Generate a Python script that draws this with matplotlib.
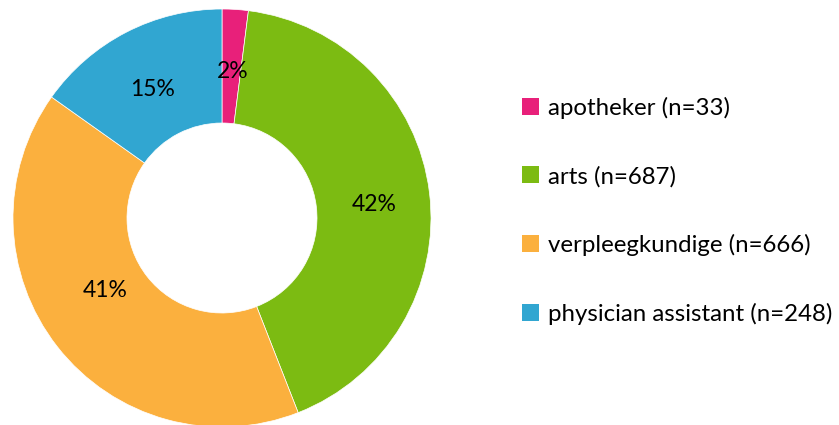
import matplotlib
matplotlib.use("Agg")
import matplotlib.pyplot as plt
from matplotlib.patches import Patch

categories = ["apotheker", "arts", "verpleegkundige", "physician assistant"]
counts = [33, 687, 666, 248]
colors = ["#E8207A", "#7CBB12", "#FBB03E", "#31A6D1"]

plt.rcParams['font.family'] = ['Lato', 'DejaVu Sans']

fig = plt.figure(figsize=(8.39, 4.25), dpi=100)
ax = fig.add_axes([0, 0, 1, 1])

wedges, texts, autotexts = ax.pie(
    counts, colors=colors, startangle=90, counterclock=False,
    center=(222, 207), radius=209, frame=True,
    wedgeprops=dict(width=114, edgecolor='white', linewidth=0.5),
    autopct=lambda p: f"{p:.0f}%", pctdistance=0.72,
    textprops=dict(fontsize=16.5, color='black'))

# nudge labels to match the original label placement
label_shift = [(1, -4), (3, -5), (2, 20), (0, -5)]
for t, (sx, sy) in zip(autotexts, label_shift):
    x, y = t.get_position()
    t.set_position((x + sx, y + sy))

ax.set_xlim(0, 839)
ax.set_ylim(0, 425)
ax.set_aspect('equal')
ax.axis('off')

handles = [Patch(facecolor=c, edgecolor='none') for c in colors]
labels = [f"{c} (n={n})" for c, n in zip(categories, counts)]
leg = ax.legend(handles, labels, loc='center left', bbox_to_anchor=(522/839, 0.504),
                bbox_transform=fig.transFigure, frameon=False, fontsize=17.3,
                handlelength=0.7, handleheight=0.7, handletextpad=0.4,
                labelspacing=1.95, borderaxespad=0, borderpad=0)

fig.savefig("out.png", dpi=100)
